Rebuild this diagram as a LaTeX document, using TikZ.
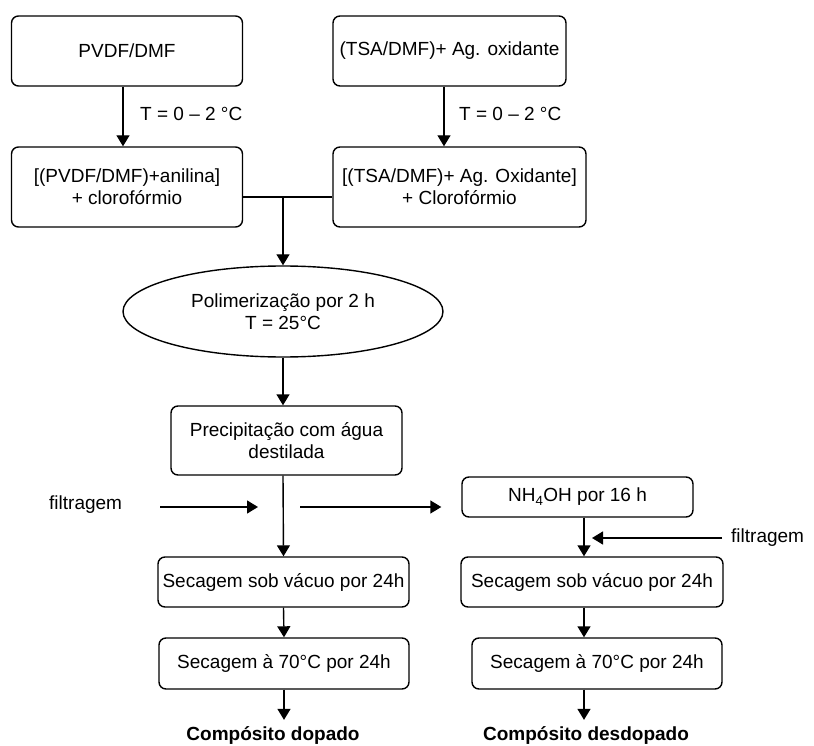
\documentclass[tikz,border=0pt]{standalone}
\usepackage{fontspec}
\setmainfont{Liberation Sans}
\usetikzlibrary{shapes.geometric,arrows.meta}
\begin{document}
\begin{tikzpicture}[x=1pt,y=-1pt,
  font=\fontsize{19}{22}\selectfont,
  box/.style={draw,line width=1.4pt,rounded corners=7pt,align=center,inner sep=2pt},
  arr/.style={line width=1.4pt,-{Triangle[width=13pt,length=11pt]}},
  ln/.style={line width=1.4pt},
  lbl/.style={inner sep=0pt,anchor=west},
  res/.style={inner sep=0pt,anchor=base,font=\fontsize{19}{22}\selectfont\bfseries}]
\useasboundingbox (0,0) rectangle (814,746);

\node[box,minimum width=231pt,minimum height=70pt] (A) at (127,51) {PVDF/DMF};
\node[box,minimum width=233pt,minimum height=70pt] (B) at (449.5,51) {(TSA/DMF)+ Ag. oxidante};
\node[box,minimum width=231pt,minimum height=80pt] (C) at (127,187) {[(PVDF/DMF)+anilina]\\+ clorofórmio};
\node[box,minimum width=253pt,minimum height=80pt] (D) at (459.5,187) {[(TSA/DMF)+ Ag. Oxidante]\\+ Clorofórmio};
\node[draw,ellipse,line width=1.4pt,minimum width=320pt,minimum height=91pt,inner sep=0pt,align=center] (E) at (283,311.5) {Polimerização por 2 h\\T = 25°C};
\node[box,minimum width=231pt,minimum height=69pt] (F) at (286.5,440.5) {Precipitação com água\\destilada};
\node[box,minimum width=231pt,minimum height=40pt] (N) at (577.5,497) {NH\textsubscript{4}OH por 16 h};
\node[box,minimum width=251pt,minimum height=50pt] (S1) at (283.5,582) {Secagem sob vácuo por 24h};
\node[box,minimum width=262pt,minimum height=50pt] (S2) at (592,582) {Secagem sob vácuo por 24h};
\node[box,minimum width=250pt,minimum height=51pt] (T1) at (284,663.5) {Secagem à 70°C por 24h};
\node[box,minimum width=250pt,minimum height=51pt] (T2) at (597,663.5) {Secagem à 70°C por 24h};
\node[res] (R1) at (273,740) {Compósito dopado};
\node[res] (R2) at (586,740) {Compósito desdopado};

\node[lbl] (L1) at (140,114) {T = 0 – 2 °C};
\node[lbl] (L2) at (459,114) {T = 0 – 2 °C};
\node[lbl] (FL) at (49,505) {filtragem};
\node[lbl] (FR) at (731,538) {filtragem};

\coordinate (J) at (283,197);
\coordinate (fa) at (160,507);
\coordinate (fb) at (258,507);
\coordinate (rb) at (300,507);
\coordinate (fc) at (722,538);
\coordinate (fd) at (592,538);

\draw[arr] ([xshift=-4pt]A.south) -- ([xshift=-4pt]C.north);
\draw[arr] ([xshift=-5.5pt]B.south) -- ([xshift=-15.5pt]D.north);
\draw[ln] ([yshift=-10pt]C.east) -- ([yshift=-10pt]D.west);
\draw[arr] (J) -- (E.north);
\draw[arr] (E.south) -- ([xshift=-3.5pt]F.north);
\draw[arr] ([xshift=-3.5pt]F.south) -- (S1.north);
\draw[arr] (S1.south) -- (T1.north);
\draw[arr,shorten >=6pt] (T1.south) -- (T1.south |- R1.north);
\draw[arr] (fa) -- (fb);
\draw[arr,shorten >=20pt] (rb) -- (rb -| N.west);
\draw[arr] ([xshift=6.5pt]N.south) -- ([xshift=-8pt]S2.north);
\draw[arr] (fc) -- (fd);
\draw[arr] ([xshift=-8pt]S2.south) -- ([xshift=-13pt]T2.north);
\draw[arr,shorten >=6pt] ([xshift=-13pt]T2.south) -- ([xshift=-13pt]T2.south |- R2.north);
\end{tikzpicture}
\end{document}
